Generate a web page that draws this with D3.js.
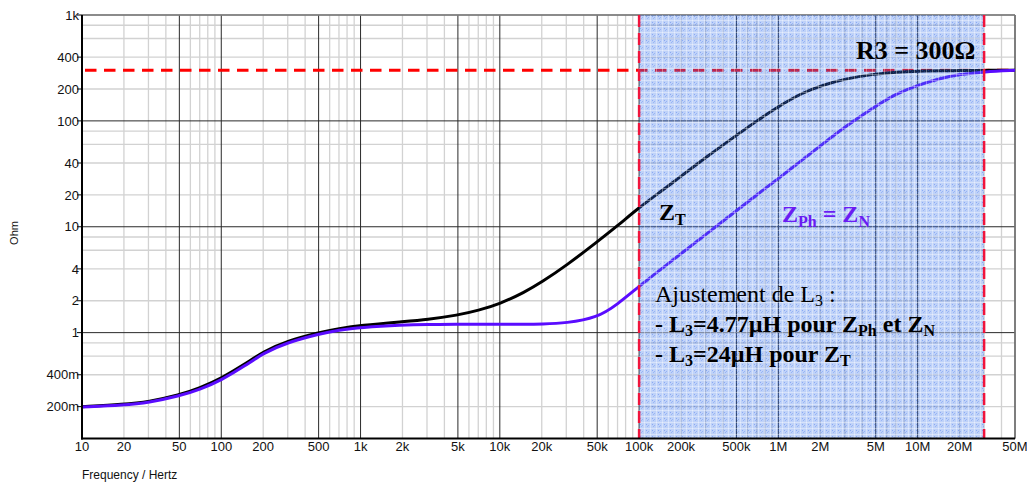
<!DOCTYPE html>
<html><head><meta charset="utf-8">
<script src="https://cdn.jsdelivr.net/npm/d3@7"></script>
<style>
html,body{margin:0;padding:0;background:#fff;}
svg{display:block;}
</style></head>
<body>
<svg id="chart" width="1027" height="483"></svg>
<script>
// ---- data ----
const freqs = [10,20,30,50,70,100,150,200,300,500,700,1e3,2e3,3e3,5e3,7e3,1e4,1.5e4,2e4,3e4,5e4,7e4,1e5,1.5e5,2e5,3e5,5e5,7e5,1e6,1.5e6,2e6,3e6,5e6,7e6,1e7,1.5e7,2e7,3e7,5e7];
const zT  = [0.20,0.21,0.222,0.258,0.30,0.37,0.51,0.66,0.84,1.0,1.09,1.17,1.27,1.33,1.46,1.62,1.87,2.4,3.0,4.3,7.2,10.2,15.2,22.5,30,45,73,100,137,185,214,250,278,289,294.5,297.5,299,300,300];
const zPh = [0.198,0.207,0.218,0.252,0.29,0.355,0.49,0.64,0.81,0.97,1.06,1.12,1.18,1.195,1.2,1.2,1.2,1.2,1.205,1.23,1.38,1.85,2.74,4.15,5.57,8.42,14.2,20,28.5,43.3,58,88,138,180,218,255,274,292,300];
const xTickValues = [10,20,50,100,200,500,1e3,2e3,5e3,1e4,2e4,5e4,1e5,2e5,5e5,1e6,2e6,5e6,1e7,2e7,5e7];
const xTickLabels = ["10","20","50","100","200","500","1k","2k","5k","10k","20k","50k","100k","200k","500k","1M","2M","5M","10M","20M","50M"];
const yTickValues = [1000,400,200,100,40,20,10,4,2,1,0.4,0.2];
const yTickLabels = ["1k","400","200","100","40","20","10","4","2","1","400m","200m"];
const r3Value = 300;
const bandStart = 1e5, bandEnd = 3e7;

// ---- layout ----
const svg = d3.select("#chart");
const L = 82, R = 1015, T = 15, B = 438.5;
const x = d3.scaleLog().domain([10, 5e7]).range([L, R]);
const y = d3.scaleLog().domain([0.1, 1000]).range([B, T]);

// pattern for shaded band
const defs = svg.append("defs");
const pat = defs.append("pattern").attr("id","dots").attr("width",6).attr("height",6).attr("patternUnits","userSpaceOnUse");
pat.append("rect").attr("width",6).attr("height",6).attr("fill","rgb(55,115,235)").attr("opacity",0.32);
pat.append("rect").attr("x",0).attr("y",2).attr("width",6).attr("height",1).attr("fill","#fff").attr("opacity",0.35);
pat.append("rect").attr("x",2).attr("y",0).attr("width",1).attr("height",6).attr("fill","#fff").attr("opacity",0.35);
pat.append("rect").attr("x",4).attr("y",4).attr("width",1).attr("height",1).attr("fill","rgb(40,90,235)").attr("opacity",0.35);
pat.append("rect").attr("x",0).attr("y",5).attr("width",1).attr("height",1).attr("fill","rgb(40,90,235)").attr("opacity",0.25);
pat.append("rect").attr("x",5).attr("y",0).attr("width",1).attr("height",1).attr("fill","rgb(40,90,235)").attr("opacity",0.25);

// ---- grid ----
const grid = svg.append("g");
const vLines = [];
for (let d = 10; d <= 1e7; d *= 10) for (let m = 1; m <= 9; m++) { const f = m*d; if (f <= 5e7) vLines.push({f, dark: m===1||m===5}); }
const hLines = [];
for (let d = 0.1; d <= 100.5; d *= 10) for (const m of [1,2,4,6,8]) hLines.push({v: m*d, dark: m===1});
hLines.push({v:1000, dark:true});
grid.selectAll(".vl").data(vLines.filter(d=>!d.dark)).join("line")
  .attr("x1",d=>x(d.f)).attr("x2",d=>x(d.f)).attr("y1",T).attr("y2",B)
  .attr("stroke","#d2d2d2").attr("stroke-width",1.3);
grid.selectAll(".hl").data(hLines.filter(d=>!d.dark)).join("line")
  .attr("y1",d=>y(d.v)).attr("y2",d=>y(d.v)).attr("x1",L).attr("x2",R)
  .attr("stroke","#d2d2d2").attr("stroke-width",1.3);
grid.selectAll(".vd").data(vLines.filter(d=>d.dark)).join("line")
  .attr("x1",d=>x(d.f)).attr("x2",d=>x(d.f)).attr("y1",T).attr("y2",B)
  .attr("stroke","#2a2a2a").attr("stroke-width",1);
grid.selectAll(".hd").data(hLines.filter(d=>d.dark)).join("line")
  .attr("y1",d=>y(d.v)).attr("y2",d=>y(d.v)).attr("x1",L).attr("x2",R)
  .attr("stroke","#2a2a2a").attr("stroke-width",1);
svg.append("line").attr("x1",L).attr("x2",R).attr("y1",T).attr("y2",T).attr("stroke","#888").attr("stroke-width",1.5);
svg.append("line").attr("x1",R).attr("x2",R).attr("y1",T).attr("y2",B).attr("stroke","#777").attr("stroke-width",1.5);

// R3 horizontal dashed line
svg.append("line").attr("x1",L+3).attr("x2",R).attr("y1",y(r3Value)).attr("y2",y(r3Value))
  .attr("stroke","#ff0000").attr("stroke-width",3).attr("stroke-dasharray","11.5,7.5");

// ---- curves ----
const line = d3.line().x(d=>x(d[0])).y(d=>y(d[1])).curve(d3.curveBasis);
svg.append("path").attr("d", line(freqs.map((f,i)=>[f,zT[i]]))).attr("fill","none").attr("stroke","#000").attr("stroke-width",3);
svg.append("path").attr("d", line(freqs.map((f,i)=>[f,zPh[i]]))).attr("fill","none").attr("stroke","#5a0cff").attr("stroke-width",3);

// ---- shaded band ----
svg.append("rect").attr("x",x(bandStart)).attr("y",T).attr("width",x(bandEnd)-x(bandStart)).attr("height",B-T)
  .attr("fill","url(#dots)");
for (const f of [bandStart, bandEnd]) {
  svg.append("line").attr("x1",x(f)).attr("x2",x(f)).attr("y1",T).attr("y2",B)
    .attr("stroke","#f0143c").attr("stroke-width",2.5).attr("stroke-dasharray","12,6");
}

// ---- axes ----
svg.append("line").attr("x1",L).attr("x2",L).attr("y1",T).attr("y2",B+1).attr("stroke","#000").attr("stroke-width",2);
svg.append("line").attr("x1",L-1).attr("x2",R).attr("y1",B).attr("y2",B).attr("stroke","#000").attr("stroke-width",2);
const yAx = svg.append("g");
yTickValues.forEach((v,i)=>{
  yAx.append("line").attr("x1",L-5).attr("x2",L).attr("y1",y(v)).attr("y2",y(v)).attr("stroke","#000").attr("stroke-width",1);
  yAx.append("text").attr("x",L-3).attr("y",y(v)).attr("dy","0.36em").attr("text-anchor","end")
    .attr("font-family","Liberation Sans, Arial, sans-serif").attr("font-size",13).attr("fill","#111").text(yTickLabels[i]);
});
const xAx = svg.append("g");
xTickValues.forEach((v,i)=>{
  xAx.append("text").attr("x",x(v)).attr("y",451).attr("text-anchor","middle")
    .attr("font-family","Liberation Sans, Arial, sans-serif").attr("font-size",13).attr("fill","#111").text(xTickLabels[i]);
});
svg.append("text").attr("x",82).attr("y",479).attr("font-family","Liberation Sans, Arial, sans-serif").attr("font-size",12).attr("fill","#111").text("Frequency / Hertz");
svg.append("text").attr("transform","translate(18,233) rotate(-90)").attr("text-anchor","middle")
  .attr("font-family","Liberation Sans, Arial, sans-serif").attr("font-size",11).attr("fill","#111").text("Ohm");

// ---- annotations ----
const serif = "Liberation Serif, Times New Roman, serif";
svg.append("text").attr("x",856).attr("y",59).attr("font-family",serif).attr("font-weight","bold").attr("font-size",26).attr("fill","#000").text("R3 = 300Ω");

const zt = svg.append("text").attr("x",659).attr("y",220).attr("font-family",serif).attr("font-weight","bold").attr("font-size",24).attr("fill","#000");
zt.append("tspan").text("Z");
zt.append("tspan").attr("font-size",16).attr("dy",5).text("T");

const zp = svg.append("text").attr("x",782).attr("y",222).attr("font-family",serif).attr("font-weight","bold").attr("font-size",24).attr("fill","#6a1cf2");
zp.append("tspan").text("Z");
zp.append("tspan").attr("font-size",16).attr("dy",5).text("Ph");
zp.append("tspan").attr("dy",-5).text(" = Z");
zp.append("tspan").attr("font-size",16).attr("dy",5).text("N");

const t1 = svg.append("text").attr("x",655).attr("y",302).attr("font-family",serif).attr("font-size",24).attr("fill","#000");
t1.append("tspan").text("Ajustement de L");
t1.append("tspan").attr("font-size",16).attr("dy",4).text("3");
t1.append("tspan").attr("dy",-4).text(" :");

const t2 = svg.append("text").attr("x",655).attr("y",332).attr("font-family",serif).attr("font-weight","bold").attr("font-size",24).attr("fill","#000");
t2.append("tspan").text("- L");
t2.append("tspan").attr("font-size",16).attr("dy",4).text("3");
t2.append("tspan").attr("dy",-4).text("=4.77µH pour Z");
t2.append("tspan").attr("font-size",16).attr("dy",4).text("Ph");
t2.append("tspan").attr("dy",-4).text(" et Z");
t2.append("tspan").attr("font-size",16).attr("dy",4).text("N");

const t3 = svg.append("text").attr("x",655).attr("y",362).attr("font-family",serif).attr("font-weight","bold").attr("font-size",24).attr("fill","#000");
t3.append("tspan").text("- L");
t3.append("tspan").attr("font-size",16).attr("dy",4).text("3");
t3.append("tspan").attr("dy",-4).text("=24µH pour Z");
t3.append("tspan").attr("font-size",16).attr("dy",4).text("T");
</script>
</body></html>
